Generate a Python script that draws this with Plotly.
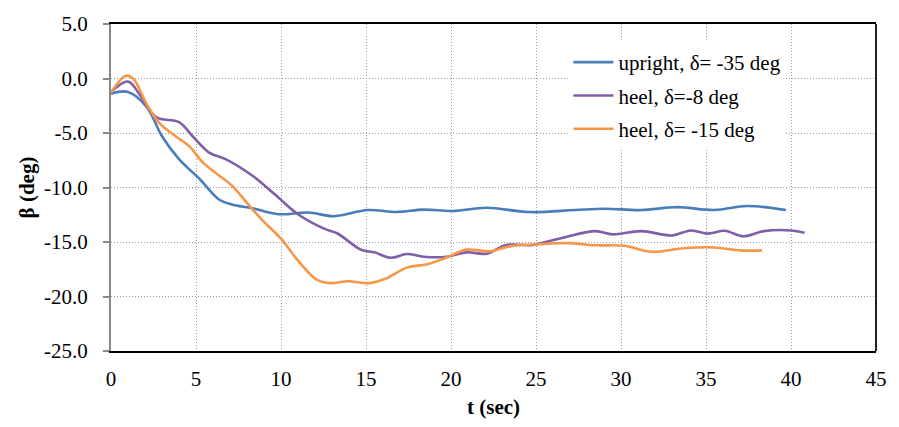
import plotly.graph_objects as go

# upright, delta = -35 deg
t_up = [0, 1.0, 2.1, 3.0, 4.0, 5.2, 6.35, 7.1, 8.3, 9.85, 11.6, 13.15, 15.1, 16.8, 18.4,
        20.1, 22.1, 24.6, 27.3, 29.0, 31.2, 33.3, 35.5, 37.4, 39.7]
b_up = [-1.4, -1.23, -2.6, -5.3, -7.4, -9.2, -11.1, -11.55, -11.9, -12.45, -12.3, -12.63,
        -12.07, -12.25, -12.03, -12.15, -11.86, -12.25, -12.07, -11.95, -12.07, -11.8,
        -12.07, -11.7, -12.07]

# heel, delta = -8 deg
t_h8 = [0, 1.0, 1.7, 2.65, 4.0, 4.8, 5.77, 6.74, 8.3, 9.65, 11.0, 12.57, 13.3, 14.7,
        15.5, 16.45, 17.4, 18.4, 19.75, 20.9, 22.1, 23.25, 24.8, 26.35, 28.5, 29.5,
        31.2, 33.0, 34.1, 35.1, 36.1, 37.2, 38.4, 40.0, 40.8]
b_h8 = [-1.23, -0.28, -1.5, -3.55, -4.0, -5.3, -6.8, -7.4, -8.9, -10.65, -12.45, -13.8,
        -14.2, -15.7, -15.95, -16.45, -16.1, -16.35, -16.35, -15.95, -16.07, -15.27,
        -15.27, -14.7, -14.0, -14.3, -14.0, -14.4, -13.94, -14.23, -13.97, -14.47,
        -14.0, -13.94, -14.15]

# heel, delta = -15 deg
t_h15 = [0, 0.87, 1.3, 2.1, 2.85, 3.8, 4.6, 5.4, 6.35, 7.1, 8.1, 8.9, 10.0, 11.0, 12.1,
         12.9, 13.9, 15.2, 16.1, 17.4, 18.6, 19.7, 20.9, 22.3, 23.45, 25.2, 26.9, 28.5,
         30.2, 31.8, 33.7, 35.5, 37.0, 38.3]
b_h15 = [-1.3, 0.25, 0.0, -2.36, -4.1, -5.3, -6.2, -7.7, -8.9, -9.8, -11.6, -13.0, -14.7,
         -16.7, -18.45, -18.77, -18.6, -18.77, -18.4, -17.35, -17.05, -16.45, -15.7,
         -15.85, -15.4, -15.2, -15.1, -15.3, -15.35, -15.9, -15.57, -15.5, -15.77, -15.77]

names = ["upright, δ= -35 deg", "heel, δ=-8 deg", "heel, δ= -15 deg"]
colors = ["#4A7EBB", "#7F5FA8", "#F79646"]

fig = go.Figure()
for i, (tx, by) in enumerate([(t_up, b_up), (t_h8, b_h8), (t_h15, b_h15)]):
    fig.add_trace(go.Scatter(x=tx, y=by, mode="lines", name=names[i],
                             legendgroup=str(i),
                             line=dict(color=colors[i], width=2.6, shape="spline", smoothing=1.0)))

font_family = "Times New Roman"
fs = 21
fig.update_layout(
    width=899, height=427,
    margin=dict(l=111, r=16, t=17, b=73),
    paper_bgcolor="white", plot_bgcolor="white",
    font=dict(family=font_family, size=fs, color="black"),
    showlegend=True,
    legend=dict(x=0.598, y=0.945, xanchor="left", yanchor="top",
                bgcolor="rgba(255,255,255,1)", borderwidth=0,
                font=dict(family=font_family, size=fs, color="black"),
                tracegroupgap=3, itemwidth=40),
    xaxis=dict(range=[0, 45], tickvals=[0, 5, 10, 15, 20, 25, 30, 35, 40, 45],
               showgrid=True, gridcolor="#9a9a9a", griddash="1px,2px", gridwidth=1,
               showline=True, linecolor="black", linewidth=1.5, mirror=True,
               ticks="", zeroline=False, ticklabelstandoff=8,
               title=dict(text="<b>t (sec)</b>", font=dict(family=font_family, size=fs), standoff=9),
               tickfont=dict(family=font_family, size=fs)),
    yaxis=dict(range=[-25, 5], tickvals=[5, 0, -5, -10, -15, -20, -25],
               ticktext=["5.0", "0.0", "-5.0", "-10.0", "-15.0", "-20.0", "-25.0"],
               showgrid=True, gridcolor="#9a9a9a", griddash="1px,2px", gridwidth=1,
               showline=True, linecolor="#888888", linewidth=2,
               ticks="outside", ticklen=6, tickcolor="#888888", tickwidth=1.5,
               zeroline=False, ticklabelstandoff=11,
               title=dict(text="<b>β (deg)</b>", font=dict(family=font_family, size=fs), standoff=4),
               tickfont=dict(family=font_family, size=fs)),
)
fig.add_shape(type="line", xref="paper", yref="paper", x0=1, x1=1, y0=0, y1=1,
              line=dict(color="#222222", width=2))
fig.write_html("out.html")
